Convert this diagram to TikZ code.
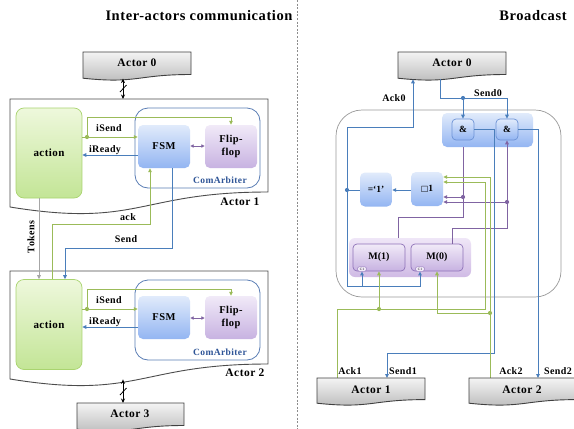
\documentclass[tikz,border=0pt]{standalone}
\usepackage{fontspec}
\setmainfont{Liberation Serif}
\newfontfamily\lsfont[LetterSpace=4]{Liberation Serif}
\newfontfamily\symfont{DejaVu Sans}
\usetikzlibrary{arrows.meta,calc}
\definecolor{cgreen}{HTML}{9BBB59}
\definecolor{cblue}{HTML}{4A7EBB}
\definecolor{cpurple}{HTML}{8064A2}
\definecolor{ctok}{HTML}{A6A6A6}
\definecolor{gTop}{HTML}{F4F4F4}
\definecolor{gBot}{HTML}{B8B8B8}
\definecolor{actTop}{HTML}{EEF8DC}
\definecolor{actBot}{HTML}{C3E596}
\definecolor{actBd}{HTML}{A9D46F}
\definecolor{bTop}{HTML}{E1EBFB}
\definecolor{bBot}{HTML}{93B5F2}
\definecolor{pTop}{HTML}{F1EAF8}
\definecolor{pBot}{HTML}{C7B2E1}
\definecolor{arbBd}{HTML}{5A7DB5}
\definecolor{arbTxt}{HTML}{2F5597}
\definecolor{bigBd}{HTML}{9A9A9A}
\definecolor{mgTop}{HTML}{EFE6F7}
\definecolor{mgBot}{HTML}{D0BBE5}
\definecolor{mBd}{HTML}{8E72B8}
\definecolor{andBd}{HTML}{6D93D6}
\tikzset{
 ttl/.style={font=\lsfont\bfseries\fontsize{14.5}{17}\selectfont, inner sep=0},
 lbl/.style={font=\lsfont\bfseries\fontsize{10}{12}\selectfont, inner sep=0},
 actlbl/.style={font=\lsfont\bfseries\fontsize{11.5}{13}\selectfont, inner sep=0},
 actorshape/.style={draw=black!75, line width=0.9pt, top color=gTop, bottom color=gBot},
 cont/.style={draw=black!70, line width=0.9pt},
 actionbox/.style={draw=actBd, line width=0.7pt, rounded corners=8pt, top color=actTop, bottom color=actBot, minimum width=66pt, minimum height=90pt, inner sep=0, font=\lsfont\bfseries\fontsize{11}{13}\selectfont},
 arbiter/.style={draw=arbBd, line width=0.8pt, rounded corners=13pt, fill=white, minimum width=125pt, minimum height=80pt, inner sep=0},
 fsmbox/.style={rounded corners=5pt, top color=bTop, bottom color=bBot, minimum width=52pt, minimum height=43pt, inner sep=0, align=center, font=\lsfont\bfseries\fontsize{10.5}{12.5}\selectfont},
 ffbox/.style={fsmbox, top color=pTop, bottom color=pBot},
 gline/.style={draw=cgreen, line width=1pt},
 bline/.style={draw=cblue, line width=1pt},
 pline/.style={draw=cpurple, line width=1pt},
 tline/.style={draw=ctok, line width=1pt},
 arr/.style={-{Triangle[length=4pt,width=3.6pt]}},
 darr/.style={{Triangle[length=3.5pt,width=3.2pt]}-{Triangle[length=3.5pt,width=3.2pt]}},
 jdot/.style={circle, inner sep=0, minimum size=4.2pt},
 bus/.style={line width=1pt, {Stealth[length=4.5pt,width=4pt]}-{Stealth[length=4.5pt,width=4pt]}},
 sep/.style={draw=black!45, line width=0.6pt, dash pattern=on 2pt off 1.6pt},
 bgate/.style={rounded corners=4pt, draw=andBd, line width=0.7pt, top color=bTop, bottom color=bBot, minimum width=22pt, minimum height=21pt, inner sep=0, font=\bfseries\fontsize{9.5}{11}\selectfont},
 bbox/.style={rounded corners=5pt, top color=bTop, bottom color=bBot, minimum width=32pt, minimum height=34pt, inner sep=0, font=\bfseries\fontsize{9.5}{11}\selectfont},
 mbox/.style={rounded corners=4pt, draw=mBd, line width=0.7pt, top color=pTop, bottom color=pBot, minimum width=52pt, minimum height=27pt, inner sep=0, font=\bfseries\fontsize{10}{12}\selectfont},
 tag/.style={rounded corners=2pt, draw=mBd, line width=0.4pt, fill=pTop, minimum width=9pt, minimum height=4.5pt, inner sep=0, font=\fontsize{3.5}{4}\selectfont},
}
\begin{document}
\begin{tikzpicture}[x=1pt,y=-1pt]
\useasboundingbox (0,0) rectangle (574,429);
\fill[white] (0,0) rectangle (574,429);

% ================= LEFT PANEL =================
\node[ttl] (t1) at (199,16) {Inter-actors communication};
\draw[sep] (297,0) -- (297,429);

% Actor 0
\shade[actorshape] (83,52) -- (191,52) -- (191,74.5) .. controls (137,74.5) and (137,84) .. (83,78.2) -- cycle;
\node[actlbl] (a0L) at (137,63) {Actor 0};

% Actor 1 container
\draw[cont] (10,99) -- (268,99) -- (268,192) .. controls (139,192) and (139,228) .. (10,207) -- cycle;
\node[actlbl] (a1Llbl) at (240,202) {Actor 1};

% bus Actor0 - Actor1
\coordinate (busA) at (123,78.6);
\coordinate (busB) at (123,99);
\draw[bus] (busA) -- (busB);
\draw[line width=0.8pt] (120,92) -- (126.5,85);

\node[actionbox] (act1) at (49,153) {action};
\node[arbiter] (arb1) at (197.5,148) {};
\node[font=\lsfont\bfseries\fontsize{9.5}{11}\selectfont, text=arbTxt, inner sep=0] (arb1lbl) at (220,180) {ComArbiter};
\node[fsmbox] (fsm1) at (164,146.5) {FSM};
\node[ffbox] (ff1) at (231,146.5) {Flip-\\flop};
\draw[pline,darr] (fsm1.east |- 0,146) -- (ff1.west |- 0,146);

% iSend / iReady (Actor 1)
\node[jdot, fill=cgreen] (d1) at (87,137) {};
\draw[gline,arr] (act1.east |- 0,137) -- (fsm1.west |- 0,137);
\draw[gline,arr] (d1.center) -- (87,117) -- (231,117) -- (ff1.north);
\node[lbl] (is1) at (109,128) {iSend};
\draw[bline,arr] (fsm1.west |- 0,155) -- (act1.east |- 0,155);
\node[lbl] (ir1) at (105,150.5) {iReady};

% Actor 2 container
\draw[cont] (10,271) -- (268,271) -- (268,364) .. controls (139,364) and (139,400) .. (10,379) -- cycle;
\node[actlbl] (a2Llbl) at (245,373) {Actor 2};

\node[actionbox] (act2) at (49,324.5) {action};
\node[arbiter] (arb2) at (197.5,320) {};
\node[font=\lsfont\bfseries\fontsize{9.5}{11}\selectfont, text=arbTxt, inner sep=0] (arb2lbl) at (220,352) {ComArbiter};
\node[fsmbox] (fsm2) at (164,317.5) {FSM};
\node[ffbox] (ff2) at (231,317.5) {Flip-\\flop};
\draw[pline,darr] (fsm2.east |- 0,318) -- (ff2.west |- 0,318);

\node[jdot, fill=cgreen] (d2) at (87,309) {};
\draw[gline,arr] (act2.east |- 0,309) -- (fsm2.west |- 0,309);
\draw[gline,arr] (d2.center) -- (87,289) -- (231,289) -- (ff2.north);
\node[lbl] (is2) at (109,300) {iSend};
\draw[bline,arr] (fsm2.west |- 0,327) -- (act2.east |- 0,327);
\node[lbl] (ir2) at (105,322) {iReady};

% Tokens, ack, Send
\draw[tline,arr] (act1.south -| 39,0) -- (act2.north -| 39,0);
\node[lbl, rotate=90] (tok) at (31,237) {Tokens};
\draw[gline,arr] (act2.north -| 52,0) -- (52,224) -- (150,224) -- (fsm1.south -| 150,0);
\node[lbl] (ack) at (128,217) {ack};
\draw[bline,arr] (fsm1.south -| 172,0) -- (172,248) -- (65,248) -- (act2.north -| 65,0);
\node[lbl] (snd) at (126,239) {Send};

% bus Actor2 - Actor3
\coordinate (busC) at (123,379.4);
\coordinate (busD) at (123,403);
\draw[bus] (busC) -- (busD);
\draw[line width=0.8pt] (120,395) -- (126.5,388);

% Actor 3
\shade[actorshape] (77,403) -- (184,403) -- (184,425.5) .. controls (130.5,425.5) and (130.5,435) .. (77,429.2) -- cycle;
\node[actlbl] (a3L) at (130,414) {Actor 3};

% ================= RIGHT PANEL =================
\node[ttl] (t2) at (533,16) {Broadcast};

\shade[actorshape] (398,52) -- (506,52) -- (506,74.5) .. controls (452,74.5) and (452,84) .. (398,78.2) -- cycle;
\node[actlbl] (a0R) at (452,63) {Actor 0};

% big container
\draw[draw=bigBd, line width=0.7pt, rounded corners=26pt] (336,110) rectangle (561,297);

% AND group
\shade[rounded corners=5pt, top color=bTop, bottom color=bBot] (442,113) rectangle (533,147);
\node[bgate] (and1) at (463,129.5) {\&};
\node[bgate] (and2) at (507,129.5) {\&};

% M group
\shade[rounded corners=6pt, top color=mgTop, bottom color=mgBot] (349,238) rectangle (471,277);
\node[mbox] (m1) at (379,257.5) {M(1)};
\node[mbox] (m0) at (437,257.5) {M(0)};
\node[tag] (c1a) at (362,269) {C1};
\node[tag] (c1b) at (420,269) {C1};

% =1 and >=1 boxes
\node[bbox] (eq) at (376,189.5) {=‘1’};
\node[bbox] (orb) at (427,189) {{\symfont\fontsize{8}{9}\selectfont □}1};
\draw[bline,arr] (orb.west |- 0,190) -- (eq.east |- 0,190);

% Send0
\node[jdot, fill=cblue] (s0d) at (463,98) {};
\draw[bline,arr] (440,79) -- (440,98) -- (507,98) -- (and2.north);
\draw[bline,arr] (s0d.center) -- (and1.north);
\node[lbl] (s0) at (488,93) {Send0};

% Ack0
\node[jdot, fill=cblue] (a0d) at (347,190) {};
\draw[bline] (eq.west |- 0,190) -- (a0d.center);
\draw[bline,arr] (a0d.center) -- (347,127) -- (413,127) -- (413,79.3);
\draw[bline,arr] (a0d.center) -- (347,286) -- (420,286) -- (c1b.south);
\draw[bline,arr] (362,286) -- (c1a.south);
\node[lbl] (ak0) at (394,98) {Ack0};

% purple feedback
\node[jdot, fill=cpurple] (pd1) at (463,197) {};
\node[jdot, fill=cpurple] (pd2) at (507,202) {};
\draw[pline] (398,238) -- (398,217) -- (463,217) -- (463,147);
\draw[pline,arr] (m0.north -| 452,0) -- (452,228) -- (507,228) -- (and2.south);
\draw[pline,arr] (pd1.center) -- (orb.east |- 0,197);
\draw[pline,arr] (pd2.center) -- (orb.east |- 0,202);

% Send1 / Send2
\draw[bline,arr] (and1.east) -- (494,129.5) -- (494,353) -- (387,353) -- (387,378);
\draw[bline,arr] (and2.east) -- (538,129.5) -- (538,378);

% Ack1
\node[jdot, fill=cgreen] (g1d) at (379,309) {};
\draw[gline,arr] (337,378) -- (337,309) -- (485,309) -- (485,182) -- (orb.east |- 0,182);
\draw[gline,arr] (g1d.center) -- (m1.south -| 379,0);
% Ack2
\node[jdot, fill=cgreen] (g2d) at (490,313) {};
\draw[gline,arr] (490,378) -- (490,177) -- (orb.east |- 0,177);
\draw[gline,arr] (g2d.center) -- (437,313) -- (m0.south -| 437,0);

% Actors 1 & 2 (right)
\shade[actorshape] (317,378) -- (425,378) -- (425,399.6) .. controls (371,399.6) and (371,409) .. (317,403.2) -- cycle;
\node[actlbl] (a1R) at (371,389.5) {Actor 1};
\shade[actorshape] (469,378) -- (577,378) -- (577,399.6) .. controls (523,399.6) and (523,409) .. (469,403.2) -- cycle;
\node[actlbl] (a2R) at (522,389.5) {Actor 2};

\node[lbl] (ak1) at (350,371) {Ack1};
\node[lbl] (sd1) at (403,371) {Send1};
\node[lbl] (ak2) at (511,371) {Ack2};
\node[lbl] (sd2) at (558,371) {Send2};
\end{tikzpicture}
\end{document}
